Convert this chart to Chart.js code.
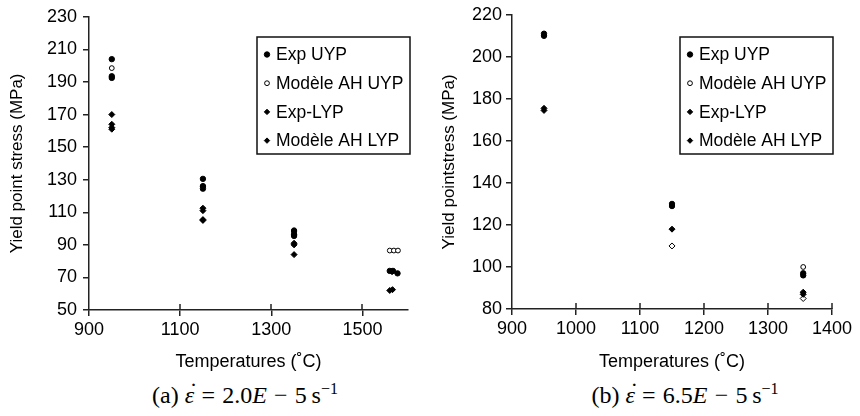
<!DOCTYPE html>
<html>
<head>
<meta charset="utf-8">
<script src="https://cdn.jsdelivr.net/npm/chart.js@4.4.1/dist/chart.umd.min.js"></script>
<style>
  html, body { margin: 0; padding: 0; background: #fff; }
  #wrap { position: relative; width: 860px; height: 416px; overflow: hidden; }
  canvas { position: absolute; top: 0; }
  #ca { left: 0; }
  #cb { left: 430px; }
  .cap { position: absolute; top: 380px; width: 320px; text-align: center;
         font-family: "Liberation Serif", "DejaVu Serif", serif; font-size: 24px; color: #000; white-space: nowrap; }
  .cap i { font-style: italic; }
  .cap sup { font-size: 16px; }
  .op { margin: 0 0.3em; }
  .eps { position: relative; font-style: italic; }
  .eps::after { content: "\02D9"; position: absolute; left: 0.2em; top: -0.18em; font-style: normal; }
</style>
</head>
<body>
<div id="wrap">
  <canvas id="ca" width="430" height="375"></canvas>
  <canvas id="cb" width="430" height="375"></canvas>
  <div class="cap" style="left:85px">(a) <span class="eps">ε</span><span class="op">=</span>2.0<i>E</i><span class="op">−</span>5&#8201;s<sup>−1</sup></div>
  <div class="cap" style="left:525px">(b) <span class="eps">ε</span><span class="op">=</span>6.5<i>E</i><span class="op">−</span>5&#8201;s<sup>−1</sup></div>
</div>
<script>
// ---------- Data: chart (a) ----------
const seriesLabels = ['Exp UYP', 'Modèle AH UYP', 'Exp-LYP', 'Modèle AH LYP'];

const aExpUYP_T = [950, 950, 950, 1150, 1150, 1150, 1350, 1350, 1350, 1560, 1567, 1577];
const aExpUYP_V = [204, 193.5, 192.5, 130.5, 126, 124.5, 98.5, 96.5, 95.5, 74, 74, 72.5];
const aModUYP_T = [950, 1150, 1350, 1560, 1569, 1578];
const aModUYP_V = [198.5, 126, 99, 86.5, 86.5, 86.5];
const aExpLYP_T = [950, 950, 950, 1150, 1150, 1150, 1350, 1350, 1560, 1566];
const aExpLYP_V = [170, 164, 161, 112.5, 111, 105, 91, 90, 62, 62.5];
const aModLYP_T = [950, 1150, 1350, 1565];
const aModLYP_V = [162, 105.5, 84, 73.5];
const aXTicks = [900, 1100, 1300, 1500];
const aYTicks = [50, 70, 90, 110, 130, 150, 170, 190, 210, 230];

// ---------- Data: chart (b) ----------
const bExpUYP_T = [950, 950, 1150, 1150, 1355, 1355];
const bExpUYP_V = [211, 210, 130, 129, 97, 96];
const bModUYP_T = [1355];
const bModUYP_V = [100];
const bExpLYP_T = [950, 950, 1150, 1355, 1355];
const bExpLYP_V = [175.5, 174.5, 118, 88, 87];
const bModLYP_T = [1150, 1355];
const bModLYP_V = [110, 85];
const bXTicks = [900, 1000, 1100, 1200, 1300, 1400];
const bYTicks = [80, 100, 120, 140, 160, 180, 200, 220];

const xTitle = 'Temperatures (˚C)';
const aYTitle = 'Yield point stress (MPa)';
const bYTitle = 'Yield pointstress (MPa)';

const pts = (T, V) => T.map((t, i) => ({ x: t, y: V[i] }));
const AXIS = '#222';
const FONT = '"Liberation Sans", Arial, sans-serif';

function makeDatasets(eu, mu, el, ml, modLypHollow) {
  return [
    { label: seriesLabels[0], data: eu, pointStyle: 'circle', pointRadius: 2.7, backgroundColor: '#000', borderColor: '#000', borderWidth: 1, legendFill: true },
    { label: seriesLabels[1], data: mu, pointStyle: 'circle', pointRadius: 2.4, backgroundColor: '#fff', borderColor: '#000', borderWidth: 1, legendFill: false },
    { label: seriesLabels[2], data: el, pointStyle: 'rectRot', pointRadius: 3, backgroundColor: '#000', borderColor: '#000', borderWidth: 1, legendFill: true },
    { label: seriesLabels[3], data: ml, pointStyle: 'rectRot', pointRadius: 3, backgroundColor: modLypHollow ? '#fff' : '#000', borderColor: '#000', borderWidth: 1, legendFill: true }
  ];
}

const boxLegend = {
  id: 'boxLegend',
  afterDraw(chart, args, o) {
    const ctx = chart.ctx;
    ctx.save();
    ctx.fillStyle = '#fff';
    ctx.fillRect(o.x, o.y, o.w, o.h);
    ctx.strokeStyle = '#111';
    ctx.lineWidth = 1.5;
    ctx.strokeRect(o.x, o.y, o.w, o.h);
    ctx.font = '17.5px ' + FONT;
    ctx.textBaseline = 'middle';
    chart.data.datasets.forEach((ds, i) => {
      const cy = o.y + 17.5 + i * 28.7;
      const mx = o.x + 10;
      ctx.fillStyle = ds.legendFill ? '#000' : '#fff';
      ctx.strokeStyle = '#000';
      ctx.lineWidth = 1;
      Chart.helpers.drawPoint(ctx, { pointStyle: ds.pointStyle, radius: ds.label === seriesLabels[1] ? 2.4 : 2.7, borderWidth: 1, rotation: 0 }, mx, cy);
      ctx.fillStyle = '#000';
      ctx.fillText(ds.label, o.x + 19, cy + 1);
    });
    ctx.restore();
  }
};

const innerTicks = {
  id: 'innerTicks',
  afterDraw(chart) {
    const xs = chart.scales.x, ctx = chart.ctx;
    const bottom = chart.chartArea.bottom;
    ctx.save();
    ctx.strokeStyle = AXIS;
    ctx.lineWidth = 1.5;
    xs.ticks.forEach(t => {
      const px = Math.round(xs.getPixelForValue(t.value));
      if (Math.abs(px - chart.chartArea.left) < 1) return;
      ctx.beginPath();
      ctx.moveTo(px, bottom);
      ctx.lineTo(px, bottom - 6);
      ctx.stroke();
    });
    ctx.restore();
  }
};

function makeChart(id, datasets, cfg) {
  return new Chart(document.getElementById(id), {
    type: 'scatter',
    data: { datasets },
    plugins: [innerTicks, boxLegend],
    options: {
      responsive: false,
      devicePixelRatio: 1,
      animation: false,
      layout: { padding: { left: 0, right: cfg.padRight, top: cfg.padTop, bottom: 0 } },
      plugins: {
        legend: { display: false },
        tooltip: { enabled: false },
        boxLegend: cfg.legend
      },
      scales: {
        x: {
          type: 'linear', min: cfg.xMin, max: cfg.xMax,
          afterBuildTicks: s => { s.ticks = cfg.xTicks.map(v => ({ value: v })); },
          afterFit: s => { s.height = cfg.xAxisH; },
          border: { display: true, color: AXIS, width: 1.5 },
          grid: { display: true, drawOnChartArea: false, drawTicks: true, tickLength: 6, color: AXIS, lineWidth: 1.5 },
          ticks: { color: '#000', font: { family: FONT, size: 18 }, padding: 3, maxRotation: 0, autoSkip: false, callback: v => String(v) },
          title: { display: true, text: xTitle, color: '#000', font: { family: FONT, size: 18 }, padding: { top: 4, bottom: 2 } }
        },
        y: {
          type: 'linear', min: cfg.yMin, max: cfg.yMax,
          afterBuildTicks: s => { s.ticks = cfg.yTicks.map(v => ({ value: v })); },
          afterFit: s => { s.width = cfg.yAxisW; },
          border: { display: true, color: AXIS, width: 1.5 },
          grid: { display: true, drawOnChartArea: false, drawTicks: true, tickLength: 6, color: AXIS, lineWidth: 1.5 },
          ticks: { color: '#000', font: { family: FONT, size: 18 }, padding: cfg.yTickPad, autoSkip: false, callback: v => String(v) },
          title: { display: true, text: cfg.yTitle, color: '#000', font: { family: FONT, size: 17 }, padding: { top: cfg.yTitlePad, bottom: 0 } }
        }
      }
    }
  });
}

makeChart('ca',
  makeDatasets(pts(aExpUYP_T, aExpUYP_V), pts(aModUYP_T, aModUYP_V), pts(aExpLYP_T, aExpLYP_V), pts(aModLYP_T, aModLYP_V), false),
  { xMin: 900, xMax: 1600, yMin: 50, yMax: 230, xTicks: aXTicks, yTicks: aYTicks,
    padRight: 22, padTop: 12, xAxisH: 65, yAxisW: 89, yTickPad: 6, yTitlePad: 7, yTitle: aYTitle,
    legend: { x: 257, y: 37, w: 153, h: 117 } });

makeChart('cb',
  makeDatasets(pts(bExpUYP_T, bExpUYP_V), pts(bModUYP_T, bModUYP_V), pts(bExpLYP_T, bExpLYP_V), pts(bModLYP_T, bModLYP_V), true),
  { xMin: 900, xMax: 1400, yMin: 80, yMax: 220, xTicks: bXTicks, yTicks: bYTicks,
    padRight: 28, padTop: 13, xAxisH: 66, yAxisW: 82, yTickPad: 4, yTitlePad: 9, yTitle: bYTitle,
    legend: { x: 250, y: 37, w: 153, h: 117 } });
</script>
</body>
</html>
